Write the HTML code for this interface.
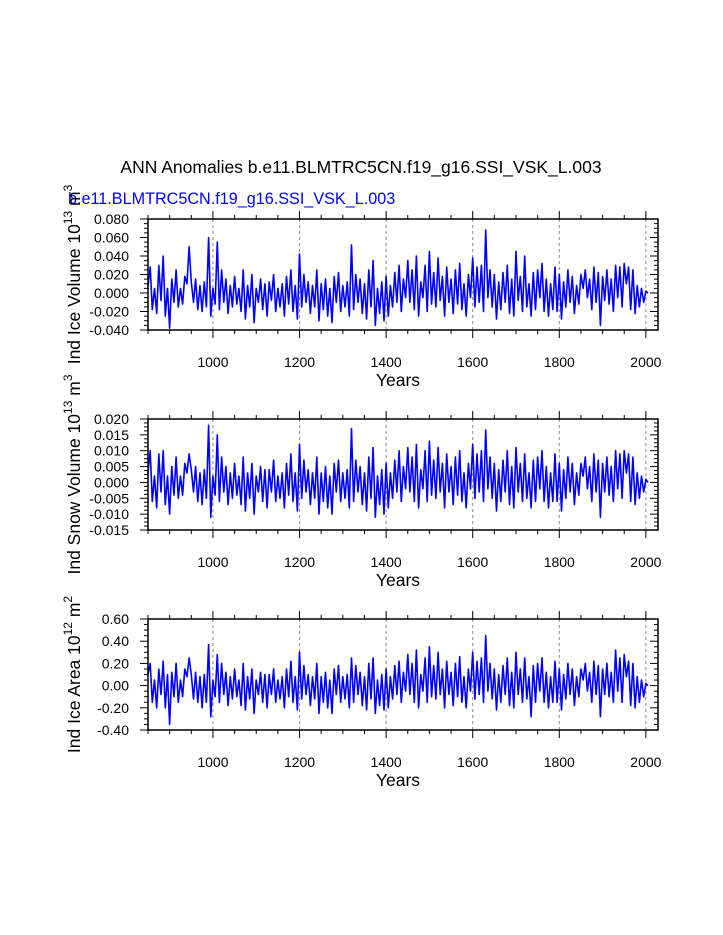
<!DOCTYPE html>
<html><head><meta charset="utf-8"><style>
body{margin:0;background:#fff;}
svg{display:block;font-family:"Liberation Sans",sans-serif;}
</style></head><body>
<svg id="c" width="723" height="935" xmlns="http://www.w3.org/2000/svg">
<text x="361" y="173" font-size="17.5" text-anchor="middle">ANN Anomalies b.e11.BLMTRC5CN.f19_g16.SSI_VSK_L.003</text>
<text x="68" y="204" font-size="16.2" fill="#0000ff">b.e11.BLMTRC5CN.f19_g16.SSI_VSK_L.003</text>
</svg>
<script>
const yearStart = 850, yearStep = 5;
const iceVolume = [8,28,-18,5,-22,30,-8,40,-25,5,-38,15,-10,25,-15,5,-12,18,10,50,
12,-10,15,-18,8,-20,12,-15,60,-25,5,-12,55,-18,25,-10,15,-22,8,-15,
18,-12,5,-20,25,-28,8,-15,20,-32,5,-10,15,-18,10,-25,12,-8,20,-20,
5,-15,10,-25,18,-12,25,-20,8,-28,42,-15,20,-10,12,-22,8,-15,25,-30,
10,-18,15,-25,5,-32,18,-10,22,-20,8,-15,12,-25,52,-18,20,-10,15,-22,
10,-28,25,-15,35,-35,5,-22,12,-30,18,-25,8,-15,22,-10,30,-20,15,-5,
35,-10,25,-18,40,-25,12,-5,30,-20,45,-12,22,-15,38,-8,18,-25,28,-10,
15,-22,25,-12,32,-18,10,-25,20,-5,38,-15,28,-10,30,-20,68,-5,25,-15,
20,-28,12,-18,22,-10,30,-22,15,-25,45,-8,18,-20,40,-15,10,-25,22,-18,
25,-5,32,-20,15,-25,10,-18,28,-20,20,-28,12,-15,25,-10,18,-22,8,-12,
20,5,25,-5,15,-18,28,-10,22,-35,18,-8,25,-12,15,-20,30,-5,28,-15,
32,10,28,-18,25,-22,8,-15,5,-10,2,0].map(v=>v*0.001);
const snowVolume = [30,100,-60,20,-80,90,-30,100,-70,20,-100,50,-40,80,-50,20,-40,60,30,90,
40,-30,50,-60,30,-70,40,-50,180,-110,20,-40,150,-60,80,-30,50,-70,30,-50,
60,-40,20,-70,80,-90,30,-50,60,-100,20,-30,50,-60,40,-80,40,-30,70,-60,
20,-50,30,-80,60,-40,90,-60,30,-90,120,-50,70,-30,40,-70,30,-50,80,-100,
30,-60,50,-80,20,-100,60,-30,70,-60,30,-50,40,-80,170,-60,70,-30,50,-70,
30,-90,80,-50,110,-110,20,-70,40,-100,60,-80,30,-50,70,-30,100,-60,50,-20,
110,-30,80,-60,120,-80,40,-20,100,-60,130,-40,70,-50,110,-30,60,-80,90,-30,
50,-70,80,-40,100,-60,30,-80,60,-20,120,-50,90,-30,100,-60,165,-20,80,-50,
60,-90,40,-60,70,-30,100,-70,50,-80,110,-30,60,-60,90,-50,30,-80,70,-60,
80,-20,100,-60,50,-80,30,-60,90,-60,60,-90,40,-50,80,-30,60,-70,30,-40,
60,20,80,-20,50,-60,90,-30,70,-110,60,-30,80,-40,50,-60,100,-20,90,-50,
100,30,90,-60,80,-70,30,-50,20,-30,10,0].map(v=>v*0.0001);
const iceArea = [10,20,-15,5,-20,15,-8,22,-20,10,-35,12,-10,20,-15,5,-10,15,8,25,
10,-12,12,-15,8,-20,10,-15,37,-28,5,-10,28,-15,20,-8,12,-18,8,-12,
15,-10,5,-18,20,-22,8,-12,15,-25,5,-8,12,-15,10,-20,10,-8,15,-15,
5,-12,8,-20,15,-10,22,-15,8,-22,30,-12,18,-8,10,-18,8,-12,20,-25,
8,-15,12,-20,5,-25,15,-8,18,-15,8,-12,10,-20,25,-15,18,-8,12,-18,
8,-22,20,-12,25,-25,5,-18,10,-22,15,-20,8,-12,18,-8,22,-15,12,-5,
28,-8,20,-15,32,-20,10,-5,25,-15,35,-10,18,-12,30,-8,15,-20,22,-8,
12,-18,20,-10,26,-15,8,-20,15,-5,30,-12,22,-8,25,-15,45,-5,20,-12,
15,-22,10,-15,18,-8,25,-18,12,-20,30,-8,15,-15,25,-12,8,-28,18,-15,
20,-5,25,-15,12,-20,8,-15,22,-15,15,-22,10,-12,20,-8,15,-18,8,-10,
15,5,20,-5,12,-15,22,-8,18,-28,15,-8,20,-10,12,-15,32,-5,25,-15,
28,8,22,-18,20,-20,8,-15,5,-10,2,0].map(v=>v*0.01);
const xTicks = [1000,1200,1400,1600,1800,2000];
const yTicks1 = ["0.080","0.060","0.040","0.020","0.000","-0.020","-0.040"];
const yTicks2 = ["0.020","0.015","0.010","0.005","0.000","-0.005","-0.010","-0.015"];
const yTicks3 = ["0.60","0.40","0.20","0.00","-0.20","-0.40"];

const NS="http://www.w3.org/2000/svg";
const svg=document.getElementById('c');
function mk(tag,attrs,parent){const e=document.createElementNS(NS,tag);for(const k in attrs)e.setAttribute(k,attrs[k]);(parent||svg).appendChild(e);return e;}
const X0=148,X1=658,XMIN=850,XMAX=2028;
const xs=y=>X0+(y-XMIN)/(XMAX-XMIN)*(X1-X0);

function panel(top,data,ticks,ymin,ymax,titleParts,key){
  const H=111,bot=top+H;
  const ys=v=>bot-(v-ymin)/(ymax-ymin)*H;
  const g=mk('g',{});
  
  
  xTicks.forEach(t=>{const l=mk('line',{x1:xs(t),x2:xs(t),y1:top,y2:bot,stroke:'#888','stroke-dasharray':'3,3','stroke-width':1},g);
    });
  let d='';data.forEach((v,i)=>{d+=(i?'L':'M')+xs(yearStart+i*yearStep).toFixed(1)+','+ys(v).toFixed(1);});
  const p=mk('path',{d:d,fill:'none',stroke:'#0000ff','stroke-width':1.6,'stroke-linejoin':'round'},g);
  
  const r=mk('rect',{x:X0,y:top,width:X1-X0,height:H,fill:'none',stroke:'#000','stroke-width':1.5},g);
  
  for(let yr=850;yr<=2025;yr+=50){const maj=yr%200===0;const L=maj?8:4;const x=xs(yr);
    mk('line',{x1:x,x2:x,y1:bot,y2:bot+L,stroke:'#000','stroke-width':1},g);
    mk('line',{x1:x,x2:x,y1:top,y2:top-L,stroke:'#000','stroke-width':1},g);}
  xTicks.forEach(t=>{const tx=mk('text',{x:xs(t),y:bot+37,'font-size':14,'text-anchor':'middle'},g);tx.textContent=t;
    });
  const xl=mk('text',{x:398,y:bot+56,'font-size':17.5,'text-anchor':'middle'},g);xl.textContent='Years';
  
  const n=ticks.length;
  for(let i=0;i<n;i++){const v=parseFloat(ticks[i]);const y=ys(v);
    mk('line',{x1:X0,x2:X0-8,y1:y,y2:y,stroke:'#000','stroke-width':1},g);
    mk('line',{x1:X1,x2:X1-8,y1:y,y2:y,stroke:'#000','stroke-width':1},g);
    const tx=mk('text',{x:129,y:y+5,'font-size':14,'text-anchor':'end'},g);tx.textContent=ticks[i];
    
    if(i<n-1){const step=(parseFloat(ticks[i])-parseFloat(ticks[i+1]))/4;
      for(let k=1;k<4;k++){const yy=ys(v-step*k);
        mk('line',{x1:X0,x2:X0-4,y1:yy,y2:yy,stroke:'#000','stroke-width':1},g);
        mk('line',{x1:X1,x2:X1-4,y1:yy,y2:yy,stroke:'#000','stroke-width':1},g);}}}
  const yt=mk('text',{transform:`translate(80,${top+H/2}) rotate(-90)`,'font-size':17.5,'text-anchor':'middle'},g);
  yt.innerHTML=titleParts;
  
}
panel(219,iceVolume,yTicks1,-0.04,0.08,'Ind Ice Volume 10<tspan dy="-8" font-size="12">13</tspan><tspan dy="8"> m</tspan><tspan dy="-8" font-size="12">3</tspan>','ice-volume');
panel(419,snowVolume,yTicks2,-0.015,0.02,'Ind Snow Volume 10<tspan dy="-8" font-size="12">13</tspan><tspan dy="8"> m</tspan><tspan dy="-8" font-size="12">3</tspan>','snow-volume');
panel(619,iceArea,yTicks3,-0.4,0.6,'Ind Ice Area 10<tspan dy="-8" font-size="12">12</tspan><tspan dy="8"> m</tspan><tspan dy="-8" font-size="12">2</tspan>','ice-area');
</script>
</body></html>
